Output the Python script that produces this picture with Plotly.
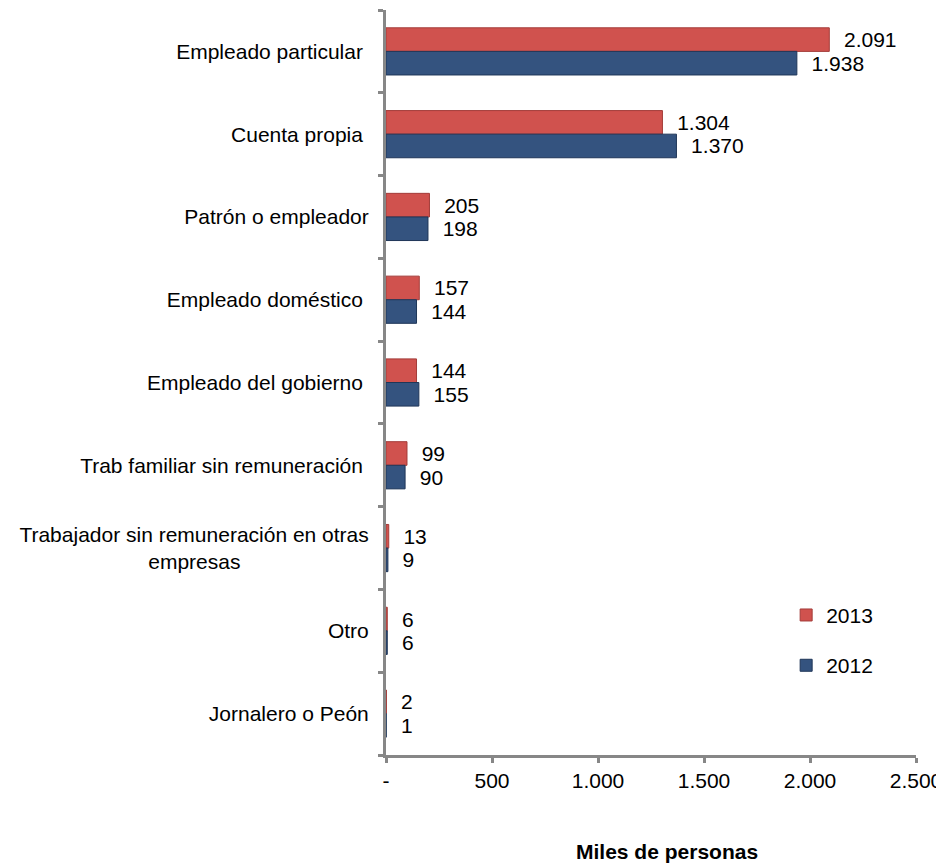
import plotly.graph_objects as go

categories = [
    "Empleado particular",
    "Cuenta propia",
    "Patrón o empleador",
    "Empleado doméstico",
    "Empleado del gobierno",
    "Trab familiar sin remuneración",
    "Trabajador sin remuneración en otras empresas",
    "Otro",
    "Jornalero o Peón",
]
category_labels = [
    "Empleado particular ",
    "Cuenta propia ",
    "Patrón o empleador",
    "Empleado doméstico ",
    "Empleado del gobierno ",
    "Trab familiar sin remuneración ",
    "Trabajador sin remuneración en otras<br>empresas" + "\u00a0" * 22,
    "Otro",
    "Jornalero o Peón",
]
values_2013 = [2091, 1304, 205, 157, 144, 99, 13, 6, 2]
values_2012 = [1938, 1370, 198, 144, 155, 90, 9, 6, 1]
x_tickvals = [0, 500, 1000, 1500, 2000, 2500]
x_ticktext = ["-", "500", "1.000", "1.500", "2.000", "2.500"]

FONT = "Liberation Sans, Arial, sans-serif"
GREY = "#878787"

fig = go.Figure()
fig.add_trace(go.Bar(
    name="2013", y=categories, x=values_2013, orientation="h",
    marker=dict(color="#d0524e", line=dict(color="#a33c39", width=1)),
    texttemplate="\u00a0\u00a0%{x:,}", textposition="outside",
    textfont=dict(size=21, color="#000000", family=FONT),
    constraintext="none", cliponaxis=False, legendgroup="a",
))
fig.add_trace(go.Bar(
    name="2012", y=categories, x=values_2012, orientation="h",
    marker=dict(color="#34537f", line=dict(color="#1f3658", width=1)),
    texttemplate="\u00a0\u00a0%{x:,}", textposition="outside",
    textfont=dict(size=21, color="#000000", family=FONT),
    constraintext="none", cliponaxis=False, legendgroup="b",
))

# the page body adds an 8px margin, so the figure is 8px smaller each way
fig.update_layout(
    width=936, height=855,
    margin=dict(l=378, r=28, t=2, b=108, autoexpand=False),
    paper_bgcolor="white", plot_bgcolor="white",
    barmode="group", bargap=0.43, bargroupgap=0,
    separators=",.",
    font=dict(family=FONT, size=21, color="#000000"),
    showlegend=True,
    legend=dict(
        x=0.755, y=0.215, xanchor="left", yanchor="top",
        font=dict(size=21, family=FONT), tracegroupgap=20,
        bgcolor="rgba(0,0,0,0)", traceorder="grouped",
    ),
    xaxis=dict(
        range=[0, 2500], tickvals=x_tickvals, ticktext=x_ticktext,
        showgrid=False, zeroline=False, automargin=False,
        showline=True, linecolor=GREY, linewidth=3,
        ticks="outside", ticklen=5, tickwidth=3, tickcolor=GREY,
        tickfont=dict(size=21, family=FONT, color="#000000"),
    ),
    yaxis=dict(
        autorange="reversed", tickvals=categories, ticktext=category_labels,
        showgrid=False, zeroline=False, automargin=False,
        showline=True, linecolor=GREY, linewidth=3,
        ticks="outside", ticklen=5, tickwidth=3, tickcolor=GREY,
        tickson="boundaries", ticklabelstandoff=10,
        tickfont=dict(size=21, family=FONT, color="#000000"),
    ),
    annotations=[dict(
        text="<b>Miles de personas</b>", xref="paper", yref="paper",
        x=0.53, y=-0.111, xanchor="center", yanchor="top", showarrow=False,
        font=dict(size=21, family=FONT, color="#000000"),
    )],
)

fig.write_html("out.html")
